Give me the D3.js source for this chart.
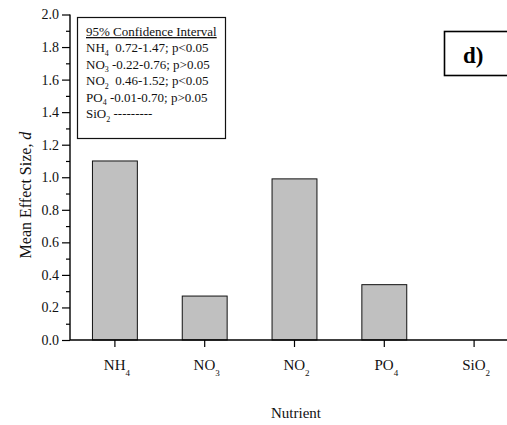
<!DOCTYPE html>
<html>
<head>
<meta charset="utf-8">
<script src="https://cdn.jsdelivr.net/npm/d3@7"></script>
<style>
  html, body { margin: 0; padding: 0; background: #fff; }
  svg { display: block; font-family: "Liberation Serif", "Times New Roman", serif; }
</style>
</head>
<body>
<svg id="chart" width="507" height="425"></svg>
<script>
// ---- data ----
const categories = ["NH4", "NO3", "NO2", "PO4", "SiO2"];
const catBase = ["NH", "NO", "NO", "PO", "SiO"];
const catSub = ["4", "3", "2", "4", "2"];
const meanEffect = [1.10, 0.27, 0.99, 0.34, null];
const yMajorTicks = [0, 0.2, 0.4, 0.6, 0.8, 1.0, 1.2, 1.4, 1.6, 1.8, 2.0];
const yMinorTicks = [0.1, 0.3, 0.5, 0.7, 0.9, 1.1, 1.3, 1.5, 1.7, 1.9];
const ciTitle = "95% Confidence Interval";
const ciBase = ["NH", "NO", "NO", "PO", "SiO"];
const ciSub = ["4", "3", "2", "4", "2"];
const ciText = ["  0.72-1.47; p<0.05", " -0.22-0.76; p>0.05", "  0.46-1.52; p<0.05", " -0.01-0.70; p>0.05", " ---------"];
const panelLabel = "d)";
const xTitle = "Nutrient";
const yTitle = "Mean Effect Size, ";
const yTitleItalic = "d";

// ---- layout ----
const svg = d3.select("#chart");
const x0 = 70, yBottom = 340, yTop = 14.5;
const x = d3.scaleBand().domain(categories).range([x0, x0 + 5 * 89.8]).paddingInner(0.5).paddingOuter(0.25);
const y = d3.scaleLinear().domain([0, 2]).range([yBottom, yTop]);

// bars
svg.append("g").selectAll("rect")
  .data(categories.map((c, i) => ({ c, v: meanEffect[i] })).filter(d => d.v != null))
  .join("rect")
  .attr("x", d => x(d.c))
  .attr("y", d => y(d.v))
  .attr("width", x.bandwidth())
  .attr("height", d => y(0) - y(d.v))
  .attr("fill", "#c0c0c0")
  .attr("stroke", "#111")
  .attr("stroke-width", 1);

// y axis minor ticks
const yMinor = svg.append("g").attr("transform", `translate(${x0},0)`)
  .call(d3.axisLeft(y).tickValues(yMinorTicks).tickSize(4).tickFormat(""));
yMinor.select(".domain").remove();
// y axis major
const yAx = svg.append("g").attr("transform", `translate(${x0},0)`)
  .call(d3.axisLeft(y).tickValues(yMajorTicks).tickSize(8).tickPadding(3).tickFormat(d3.format(".1f")));
yAx.select(".domain").attr("d", `M0,${y(2)}V${y(0)}`);
svg.selectAll("g .tick line").attr("stroke", "#000").attr("stroke-width", 1.2);
yAx.select(".domain").attr("stroke-width", 1.4);
yAx.selectAll("text").attr("font-size", 14).attr("font-family", "Liberation Serif").attr("fill", "#111");

// x axis
const xAx = svg.append("g").attr("transform", `translate(0,${yBottom})`)
  .call(d3.axisBottom(x).tickSize(7).tickFormat(""));
xAx.select(".domain").attr("d", `M${x0},0H520`).attr("stroke-width", 1.4);
xAx.selectAll(".tick line").attr("stroke-width", 1.2);
xAx.selectAll(".tick").each(function(d, i) {
  const t = d3.select(this).append("text")
    .attr("y", 30).attr("x", 2)
    .attr("text-anchor", "middle")
    .attr("fill", "#111")
    .attr("font-size", 15)
    .attr("font-family", "Liberation Serif");
  t.append("tspan").text(catBase[i]);
  t.append("tspan").attr("font-size", 9).attr("dy", 6).text(catSub[i]);
});

// axis titles
svg.append("text").attr("x", 296).attr("y", 418).attr("text-anchor", "middle")
  .attr("font-size", 15).attr("fill", "#111").text(xTitle);
const yt = svg.append("text").attr("transform", "translate(31,195) rotate(-90)")
  .attr("text-anchor", "middle").attr("font-size", 16).attr("fill", "#111");
yt.append("tspan").text(yTitle);
yt.append("tspan").attr("font-style", "italic").text(yTitleItalic);

// legend (CI box)
const lg = svg.append("g");
lg.append("rect").attr("x", 77.5).attr("y", 17.5).attr("width", 148).attr("height", 121)
  .attr("fill", "#fff").attr("stroke", "#111").attr("stroke-width", 1.2);
const lx = 86, ly0 = 36, lstep = 16.4;
lg.append("text").attr("x", lx).attr("y", ly0).attr("font-size", 13).attr("fill", "#111")
  .attr("text-decoration", "underline").text(ciTitle);
ciBase.forEach((b, i) => {
  const t = lg.append("text").attr("x", lx).attr("y", ly0 + lstep * (i + 1))
    .attr("font-size", 13).attr("fill", "#111").style("white-space", "pre");
  t.append("tspan").text(b);
  t.append("tspan").attr("font-size", 8).attr("dy", 3.5).text(ciSub[i]);
  t.append("tspan").attr("dy", -3.5).text(ciText[i]);
});

// panel label
svg.append("rect").attr("x", 444.5).attr("y", 31.5).attr("width", 80).attr("height", 44)
  .attr("fill", "#fff").attr("stroke", "#000").attr("stroke-width", 1.6);
svg.append("text").attr("x", 463).attr("y", 63).attr("font-size", 23).attr("font-weight", "bold")
  .attr("fill", "#000").text(panelLabel);
</script>
</body>
</html>
